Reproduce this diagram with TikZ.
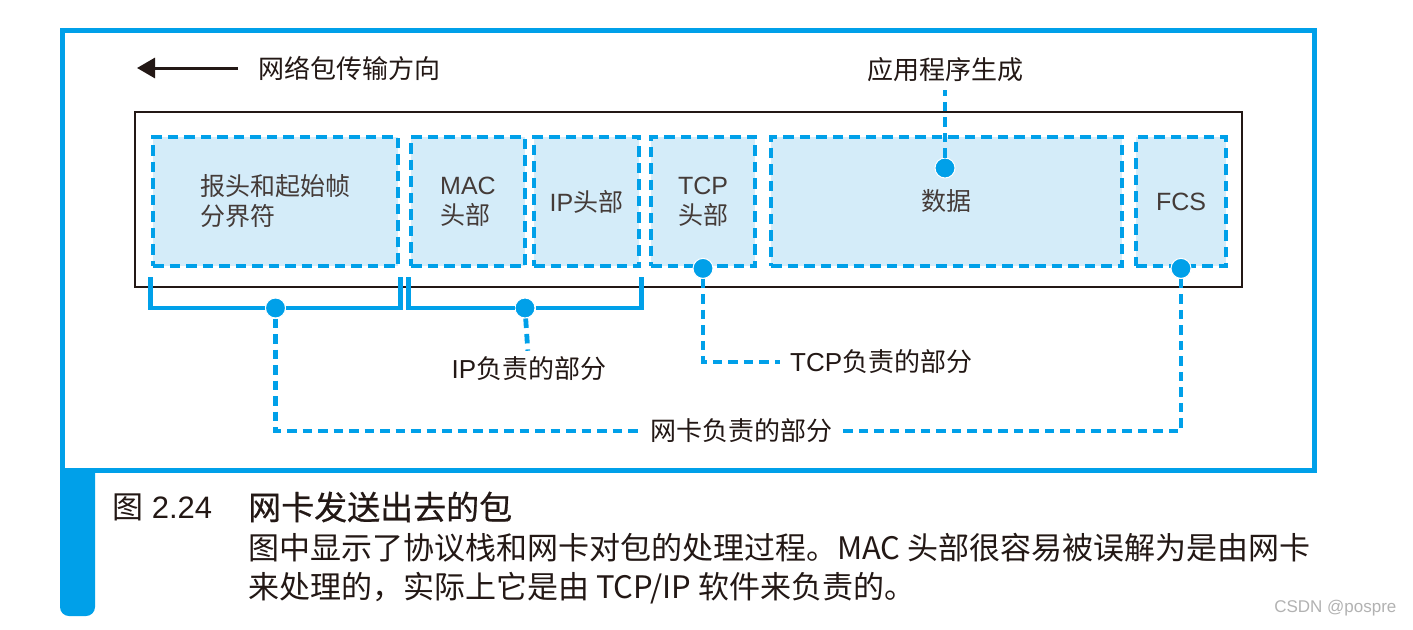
\documentclass[tikz,border=0pt]{standalone}
\usepackage{fontspec}
\setmainfont{Liberation Sans}
\newfontfamily\cjk{Noto Sans CJK SC}
\newfontfamily\cjkm[FakeBold=0.6]{Noto Sans CJK SC}
\usetikzlibrary{arrows.meta}
\definecolor{nicblue}{HTML}{00A0E9}
\definecolor{boxfill}{HTML}{D4ECF9}
\definecolor{ink}{HTML}{231815}
\begin{document}
\begin{tikzpicture}[x=1pt,y=-1pt,
  pbox/.style={draw=nicblue, fill=boxfill, line width=4.8pt, dash pattern=on 10.5pt off 6pt,
    minimum height=129pt, inner sep=0pt, text=ink!85, align=left,
    font=\fontsize{25}{30}\selectfont},
  dot/.style={circle, fill=nicblue, draw=white, line width=1pt, minimum size=20pt, inner sep=0pt},
  bracket/.style={draw=nicblue, line width=4.5pt},
  conn/.style={draw=nicblue, line width=4.8pt, dash pattern=on 9.5pt off 6pt},
  lbl/.style={font=\fontsize{26}{30}\selectfont, inner sep=2pt, text=ink},
  captext/.style={font=\fontsize{31}{40}\selectfont, inner sep=0pt, text=ink, anchor=west},
]
\useasboundingbox (0,0) rectangle (1413,629);
\fill[white] (0,0) rectangle (1413,629);
% outer frame and side bar
\fill[nicblue] (60,470) {[rounded corners=9pt] -- (60,616) -- (95,616)} -- (95,470) -- cycle;
\draw[nicblue, line width=5pt] (62.5,30.5) rectangle (1314.5,470.5);
% direction arrow
\coordinate (arrtail) at (238,68);
\coordinate (arrhead) at (137,68);
\draw[ink, line width=3pt, -{Triangle[length=18pt,width=20pt]}] (arrtail) -- (arrhead);
\node[lbl, anchor=west] (dirlabel) at (256,68) {\cjk 网络包传输方向};
% packet
\node[draw=ink, line width=2pt, minimum width=1107pt, minimum height=175pt, inner sep=0pt] (pkt) at (688.5,199.5) {};
\node[pbox, minimum width=245pt] (hdr) at (275.5,201.5) {{\cjk 报头和起始帧}\\{\cjk 分界符}};
\node[pbox, minimum width=114pt] (mac) at (468,201.5) {MAC\\{\cjk 头部}};
\node[pbox, minimum width=105pt] (ip) at (586.5,201.5) {IP{\cjk 头部}};
\node[pbox, minimum width=104pt] (tcp) at (703,201.5) {TCP\\{\cjk 头部}};
\node[pbox, minimum width=351pt] (data) at (946.5,201.5) {\cjk 数据};
\node[pbox, minimum width=90pt] (fcs) at (1181,201.5) {FCS};
% dots
\node[dot] (d1) at (275.5,308) {};
\node[dot] (d2) at (525,308) {};
\node[dot] (d3) at (945,168) {};
\node[dot] (d4) at (tcp.south) {};
\node[dot] (d5) at (fcs.south) {};
% labels
\node[lbl] (applabel) at (945,70) {\cjk 应用程序生成};
\node[lbl] (iplabel) at (529,369) {IP{\cjk 负责的部分}};
\node[lbl, anchor=west] (tcplabel) at (788,362) {TCP{\cjk 负责的部分}};
\node[lbl] (niclabel) at (741,431) {\cjk 网卡负责的部分};
% brackets
\draw[bracket] ([yshift=-9pt]hdr.south west) |- (d1) -| ([yshift=-9pt]hdr.south east);
\draw[bracket] ([yshift=-9pt]mac.south west) |- (d2) -| ([yshift=-9pt]ip.south east);
% connectors
\draw[conn, shorten >=6pt] (d3) -- (applabel);
\draw[conn, shorten >=4pt] (d2) -- (iplabel);
\draw[conn, shorten >=8pt] (d4) |- (tcplabel.west);
\draw[conn, shorten >=6pt] (d5) |- (niclabel.east);
\draw[conn, shorten >=6pt] (d1) |- (niclabel.west);
% caption
\node[captext] (fignum) at (112,507) {{\cjk 图} 2.24};
\node[captext, font=\fontsize{33}{40}\selectfont] (figtitle) at (248,507) {\cjkm 网卡发送出去的包};
\node[captext] (capline1) at (248,548) {\cjk 图中显示了协议栈和网卡对包的处理过程。MAC 头部很容易被误解为是由网卡};
\node[captext] (capline2) at (248,588) {\cjk 来处理的，实际上它是由 TCP/IP 软件来负责的。};
\node[anchor=east, text=gray!60, font=\fontsize{17}{20}\selectfont] (wm) at (1400,608) {CSDN @pospre};
\end{tikzpicture}
\end{document}
